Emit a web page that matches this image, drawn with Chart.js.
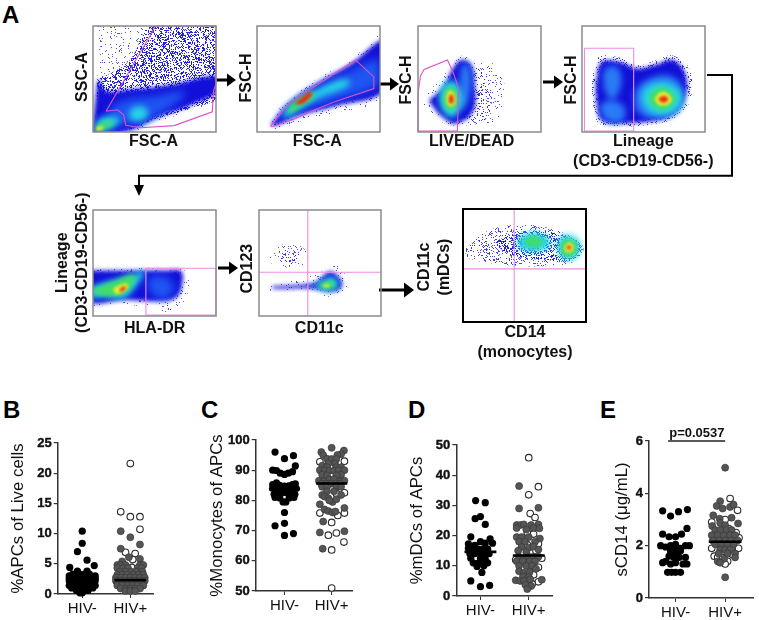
<!DOCTYPE html>
<html><head><meta charset="utf-8">
<style>
html,body{margin:0;padding:0;background:#fff;width:759px;height:620px;overflow:hidden}
canvas{position:absolute;display:block}
.tag{position:absolute;font:bold 24px "Liberation Sans",Arial,sans-serif;color:#000;line-height:24px}
svg{position:absolute;left:0;top:0}
</style>
<script src="https://cdn.jsdelivr.net/npm/chart.js@4"></script>
</head><body>
<svg width="759" height="620" id="arrows">
<g fill="#000" stroke="none">
<path d="M216 78.5h11v-5l9 6.500-9 6.500v-5h-11z"/>
<path d="M380 82.500h10v-5l9 6.500-9 6.500v-5h-10z"/>
<path d="M543 80.500h11v-5l9 6.500-9 6.500v-5h-11z"/>
<path d="M218 266.500h11v-5l9 6.500-9 6.500v-5h-11z"/>
<path d="M379 288.500h25v-6l10 7.500-10 7.500v-6h-25z"/>
<path d="M134 185h10l-5 11z"/>
</g>
<path d="M707 75H732V175.700H139V186" fill="none" stroke="#000" stroke-width="2"/>
</svg>
<div class="tag" style="left:2px;top:3px">A</div>
<div class="tag" style="left:3px;top:398px">B</div>
<div class="tag" style="left:201px;top:398px">C</div>
<div class="tag" style="left:408px;top:398px">D</div>
<div class="tag" style="left:600px;top:398px">E</div>
<script>
/* ---------- dot-plot categories and values (offset inside the swarm, value) ---------- */
const groups=['HIV-','HIV+'];
const bNeg=[[0,10.4],[0,8.4],[-.1,7],[.1,5.6],[-.26,4.4],[.25,4.7],[-.1,3.8],[.1,3.8],[-.2,3.3],[-.05,3.3],[.05,3.3],[.15,3.3],[-.27,3],[-.15,3],[.15,3],[.27,3],[-.27,2.6],[-.18,2.6],[-.08,2.6],[.08,2.6],[.18,2.6],[.27,2.6],[-.27,2.2],[-.17,2.2],[-.1,2.2],[0,2.2],[.1,2.2],[.2,2.2],[.27,2.2],[-.25,1.8],[-.15,1.8],[-.05,1.8],[.05,1.8],[.15,1.8],[.25,1.8],[-.27,1.4],[-.15,1.4],[-.05,1.4],[.05,1.4],[.15,1.4],[.27,1.4],[-.22,1],[-.1,1],[0,1],[.1,1],[.22,1],[-.12,.6],[-.03,.6],[.05,.6],[.12,.6],[0,.2],[-.05,.2]];
const bPosGray=[[-.2,10.4],[0,9.4],[.2,8.2],[-.2,7.5],[-.03,6.1],[-.17,5.4],[.2,5.8],[-.27,4.8],[-.2,4.8],[-.1,4.8],[.2,4.8],[.27,4.8],[-.27,4.3],[-.15,4.3],[-.05,4.3],[.15,4.3],[.23,4.3],[-.22,3.7],[-.1,3.7],[.02,3.7],[.12,3.7],[.25,3.7],[-.27,3.2],[-.17,3.2],[-.07,3.2],[.07,3.2],[.17,3.2],[.27,3.2],[-.3,2.7],[-.2,2.7],[-.1,2.7],[0,2.7],[.1,2.7],[.2,2.7],[.3,2.7],[-.3,2.2],[-.2,2.2],[-.1,2.2],[0,2.2],[.1,2.2],[.2,2.2],[.3,2.2],[-.27,1.8],[-.17,1.8],[-.07,1.8],[.03,1.8],[.13,1.8],[.23,1.8],[-.27,1.4],[-.17,1.4],[-.05,1.4],[.05,1.4],[.15,1.4],[.27,1.4],[-.2,.9],[-.1,.9],[0,.9],[.1,.9],[.2,.9],[-.1,.5],[0,.5],[.1,.5]];
const bPosWhite=[[0,21.6],[-.2,13.6],[0,12.8],[.2,12.8],[.2,10.7],[-.1,6.9],[.1,6.7],[.05,5.7],[.03,4.4],[.12,3.1],[-.15,1.1],[.22,1.7]];
const cNeg=[[-.2,96],[0,93.8],[.19,94.8],[.23,91.4],[-.25,90],[-.17,89.9],[-.09,89],[0,88.6],[.08,89],[.17,89.5],[-.25,85.2],[-.17,85.8],[-.1,85],[0,84.7],[.09,84.8],[.17,85.2],[.23,85.5],[-.25,84],[-.15,84],[-.05,84],[.05,84],[.15,84],[.25,84],[-.22,82],[-.13,82],[-.05,82.5],[.05,82.5],[.13,82],[.22,82],[-.2,81],[-.1,80.8],[.1,80.8],[.2,81],[-.03,79.5],[.03,79.5],[0,76],[-.2,71.6],[0,72.4],[0,68.4],[.19,69]];
const cPosGray=[[0,97.4],[-.22,96],[.26,96.5],[-.18,95],[.2,95.3],[.12,95],[-.1,93.8],[0,93.7],[.1,93.7],[-.07,92.2],[.07,92.2],[-.2,91.5],[-.1,91],[.1,91],[.2,91],[-.25,90],[-.15,90],[-.05,89.8],[.05,89.8],[.15,90],[.27,90],[-.2,88.5],[.2,88.5],[-.1,88.3],[.1,88.3],[-.05,87],[.05,87],[-.27,86.5],[-.17,86.3],[.17,86.3],[.27,86.5],[-.22,85.5],[-.12,85.5],[-.02,85.5],[.08,85.5],[.18,85.5],[-.2,84.5],[-.1,84.5],[.1,84.5],[.2,84.5],[-.1,83],[.05,83],[-.2,81.8],[-.15,81.3],[-.07,80.7],[.2,81.8],[.02,79.5],[-.05,80],[.1,80.4],[-.25,78.7],[-.15,77],[-.07,76.5],[.02,76],[.08,76.3],[.27,77.5],[-.18,73],[-.25,69.4],[.27,69.8],[-.19,64]];
const cPosWhite=[[-.25,92.8],[.27,93],[0,91.2],[.27,82.5],[.1,82.3],[-.25,75.8],[.13,75],[.27,75.8],[0,72.7],[-.07,68.5],[.1,69.2],[.26,66.2],[0,63.6],[0,51]];
const dNeg=[[-.1,31.6],[.1,30.9],[0,26.3],[-.11,25.6],[.1,23.7],[-.2,19.6],[.2,18.9],[0,18],[-.25,17.3],[-.12,16.8],[.1,17.5],[.25,17.5],[-.25,15.8],[-.15,15.5],[-.05,15.5],[.05,15.5],[.15,15.5],[-.22,14],[-.12,14],[-.02,14.2],[.08,14],[.18,14],[-.2,12.5],[0,12.5],[.1,12.2],[-.15,11],[-.05,10.8],[.05,11],[.15,11],[-.07,9.8],[.07,10],[.03,7.8],[-.2,5],[0,3.1],[.19,3.5]];
const dPosGray=[[-.2,36.4],[-.2,29],[.2,29.2],[-.25,23.5],[-.17,23.5],[-.1,23.7],[.05,23.5],[.2,23.7],[-.25,22.5],[-.05,22],[.1,22.5],[.22,22.4],[-.25,19.5],[-.15,19.5],[0,19.5],[.23,19],[-.2,18],[-.08,18],[.13,18],[-.15,16.2],[0,16],[.1,16.4],[-.22,15],[-.05,14.5],[.2,15.4],[-.2,13],[-.1,12.5],[0,13],[.1,13],[.2,13],[-.25,11.5],[-.12,11.5],[.02,11.5],[.13,11.5],[-.2,10],[-.05,10],[.07,10],[-.2,8.2],[-.1,7.7],[.02,8],[.15,9],[-.12,6.5],[0,6.3],[-.27,5.2],[-.18,5],[-.1,5],[.03,5.5],[.27,5.4],[-.07,3.7],[.05,3.3],[-.03,2.3]];
const dPosWhite=[[0,45.8],[.2,36.2],[0,33.5],[.03,27.3],[.13,26],[-.03,21],[.1,20.5],[.2,17.3],[-.03,17],[.15,15],[-.27,12],[.27,12.5],[.2,9.5],[.1,7],[.2,4.7],[.07,4]];
const eNeg=[[-.26,3.33],[-.1,3.13],[.06,3.3],[.24,3.38],[.23,2.66],[-.26,2.44],[.12,2.44],[-.13,2.34],[0,2.34],[-.3,2],[-.2,1.95],[-.1,2],[0,2.05],[.1,1.9],[.2,2],[.28,2],[-.1,1.8],[0,1.75],[.1,1.8],[-.13,1.6],[-.03,1.55],[.07,1.55],[.2,1.55],[-.26,1.35],[-.2,1.4],[-.1,1.3],[0,1.35],[.15,1.3],[.23,1.3],[-.16,.98],[-.08,.98],[0,.98],[.1,.98]];
const ePosGray=[[0,4.98],[0,.79],[-.1,3.7],[-.17,3.52],[-.05,3.42],[.1,3.48],[.17,3.57],[-.24,3.16],[-.11,3.03],[.13,3.07],[-.1,2.87],[.26,2.85],[0,2.78],[-.26,2.75],[-.2,2.6],[-.1,2.6],[.03,2.6],[.13,2.6],[-.27,2.4],[-.15,2.4],[-.03,2.4],[.1,2.4],[.2,2.4],[-.25,2.2],[-.12,2.2],[0,2.2],[.12,2.2],[.25,2.2],[-.2,2.05],[-.08,2.05],[.05,2.05],[.17,2.05],[-.1,1.85],[0,1.85],[.1,1.85],[-.13,1.7],[.05,1.7],[.2,1.7],[.2,1.55],[-.02,1.5],[-.15,1.4],[-.1,1.35]];
const ePosWhite=[[.25,3.35],[.1,3.8],[-.27,2.9],[0,3],[.07,2.65],[-.05,2.6],[.28,2.3],[.22,2.5],[-.27,1.9],[.27,1.9],[-.22,1.6],[-.15,1.55],[-.05,1.55],[.05,1.4],[.15,1.65],[0,1.3],[-.1,2],[.12,1.9]];
const bMedians=[2.5,2.3], cMedians=[83.7,85.6], dMedians=[14.6,13.4], eMedians=[1.92,2.15];
const bTicks=[0,5,10,15,20,25], cTicks=[50,60,70,80,90,100], dTicks=[0,10,20,30,40,50], eTicks=[0,2,4,6];
const pText='p=0.0537', pBar=[[.85,6],[2,6]];

/* ---------- flow-plot density contours, gates, labels (percent of each axis) ---------- */
const a1Sparse=[[1,-3],[2,30],[5,70],[8,104],[104,104],[104,33],[77,19],[52,9],[39,2],[25,-3]];
const a1Dense=[[3,30],[5,50],[14,55],[30,68],[50,104],[104,104],[104,36],[77,22],[50,12],[25,3]];
const a1Blue=[[-1,-3],[2,30],[5,50],[10,39],[30,40],[60,44],[104,53],[104,40],[77,24],[52,14],[39,6],[25,0]];
const a1Bright=[[15,8],[13,20],[25,30],[50,34],[75,38],[65,25],[45,12],[30,7]];
const a1Cyan=[[29,17],[33,23],[40,24],[45,18],[40,11],[32,11]];
const a1LowCyan=[[1,1],[5,12],[14,15],[22,11],[16,4],[6,0]];
const a1LowGreen=[[2,2],[5,8],[12,10],[17,8],[11,4],[5,1]];
const a1LowCore=[[2,2],[4,5],[8,5],[8,3],[4,1]];
const a1Gate=[[10.6,19.5],[51,100],[100,100],[100,45],[98,39],[97,19],[66,6],[39,4],[26.6,6.3],[25,16],[20,21],[10.6,19.5]];

const a2Sparse=[[9,5],[14,16],[27,32],[49,50],[76,68],[104,92],[104,32],[62,18],[35,10],[15,2]];
const a2Blue=[[11,7],[27,28],[49,46],[76,64],[104,86],[104,40],[62,24],[35,16],[15,6]];
const a2Bright=[[16,12],[27,25],[49,42],[76,58],[100,68],[100,46],[62,29],[35,20],[22,14]];
const a2Cyan=[[20,15],[28,27],[47,39],[72,50],[75,44],[50,32],[32,20],[24,14]];
const a2Green=[[24,20],[33,31],[45,38],[46,33],[34,23],[27,18]];
const a2Core=[[30,26],[37,33],[44,38],[44,34],[37,27]];
const a2Gate=[[11,6],[27,28],[80,68],[95,52],[95,41],[62,28],[45,20],[30,12],[12,5],[11,6]];

const a3Sparse=[[1,22],[9,38],[29,64],[35,72],[47,66],[66,62],[70,38],[64,12],[34,6],[18,10],[6,20]];
const a3Dense=[[44,62],[55,55],[60,30],[55,12],[40,8],[44,30]];
const a3Blue=[[9,30],[20,42],[29,61],[35,68],[43,64],[46,46],[45,20],[31,8],[20,14],[12,24]];
const a3Band=[[34,40],[35,60],[39,65],[43,55],[42,35],[37,22],[33,26]];
const a3Cyan=[[17,30],[19,42],[26,48],[32,46],[36,32],[33,18],[26,14],[20,20]];
const a3Green=[[20,31],[22,39],[26,43],[31,39],[32,29],[29,21],[24,21]];
const a3Yellow=[[23,31],[24,37],[27,39],[30,35],[30,27],[27,24],[24,26]];
const a3Core=[[25,31],[26,35],[28,35],[29,31],[28,27],[26,27]];
const a3Gate=[[0,1],[0,36],[2,53],[5,59],[24,68],[29,55],[33,41],[32,1],[0,1]];

const a4Sparse=[[8,46],[13,70],[31,70],[45,63],[61,68],[74,72],[88,58],[88,30],[76,14],[61,8],[31,5],[14,8],[9,27]];
const a4Blue=[[11,46],[16,66],[31,66],[45,60],[61,64],[74,68],[84,55],[84,33],[74,17],[61,11],[31,8],[16,11],[12,27]];
const a4BrightA=[[18,40],[18,58],[27,62],[32,52],[30,38],[24,30]];
const a4BrightB=[[17,14],[15,25],[24,30],[34,24],[34,12],[24,9]];
const a4Mid=[[43,22],[44,40],[58,52],[74,52],[82,40],[80,22],[68,14],[52,14]];
const a4Cyan=[[48,31],[52,42],[66,47],[78,41],[82,31],[76,20],[66,16],[54,20]];
const a4Green=[[54,31],[58,39],[66,42],[73,38],[76,31],[71,23],[66,21],[58,24]];
const a4Yellow=[[59,31],[62,36],[66,38],[70,36],[73,31],[70,26],[66,25],[62,26]];
const a4Core=[[62,31],[64,33],[66,34],[69,33],[70,31],[68,28],[65,28]];
const a4Gate=[[2,79],[42,79],[42,1],[2,1],[2,79]];

const a5Sparse=[[-4,44],[72,44],[78,34],[75,16],[65,4],[45,8],[20,11],[-4,11]];
const a5Blue=[[-4,43],[30,43],[60,43],[71,43],[73,34],[68,18],[52,14],[27,15],[-4,14]];
const a5Bright=[[44,34],[46,24],[54,16],[62,18],[66,28],[60,36],[50,38]];
const a5Cyan=[[-3,27],[14,33],[33,39],[42,43],[35,28],[25,17],[11,18],[-3,18]];
const a5Green=[[-2,25],[16,32],[33,39],[31,28],[22,20],[5,20]];
const a5Yellow=[[16,26],[27,31],[28,26],[19,21]];
const a5Core=[[22,26],[26,28],[26,25],[22,23]];
const a5Gate=[[43,1],[43,45],[100,45],[100,1],[43,1]];

const a6SparseHigh=[[8,55],[13,64],[27,68],[38,62],[38,50],[25,46],[12,48]];
const a6BlueHigh=[[16,55],[20,61],[28,62],[34,57],[30,51],[20,51]];
const a6SparseLow=[[8,28],[30,34],[48,40],[62,48],[72,36],[72,24],[60,18],[36,24],[8,24]];
const a6Blue=[[11,28],[39,30],[47,32],[58,42],[66,36],[68,28],[61,23],[42,26],[11,26]];
const a6Cyan=[[44,29],[52,33],[58,37],[64,34],[65,28],[58,24],[48,26]];
const a6Green=[[48,29],[54,32],[60,33],[62,28],[56,26]];
const a6Core=[[52,29],[56,30],[58,28],[54,27]];
const a6GateV=[[40,0],[40,100]];
const a6GateH=[[0,41.3],[100,41.3]];

const a7Sparse=[[2,65],[19,80],[46,86],[76,81],[97,68],[94,56],[76,50],[41,50],[17,53],[3,58]];
const a7Blue=[[38,77],[55,81],[79,78],[95,68],[90,55],[65,55],[41,59],[27,70]];
const a7CyanA=[[43,70],[48,77],[60,79],[70,74],[70,66],[58,62],[47,64]];
const a7GreenA=[[50,71],[54,75],[62,75],[65,71],[60,67],[52,67]];
const a7CyanB=[[76,66],[79,75],[86,77],[94,72],[95,62],[90,56],[81,56]];
const a7GreenB=[[79,66],[82,72],[87,73],[92,69],[92,62],[87,58],[82,59]];
const a7YellowB=[[82,66],[85,70],[88,70],[90,66],[88,62],[84,62]];
const a7Core=[[84,66],[86,68],[88,66],[86,64]];
const a7GateV=[[41.6,0],[41.6,100]];
const a7GateH=[[0,47],[100,47]];

const xLabels=[['FSC-A'],['FSC-A'],['LIVE/DEAD'],['Lineage','(CD3-CD19-CD56-)'],['HLA-DR'],['CD11c'],['CD14','(monocytes)']];
const yLabels=[['SSC-A'],['FSC-H'],['FSC-H'],['FSC-H'],['Lineage','(CD3-CD19-CD56-)'],['CD123'],['CD11c','(mDCs)']];

/* ---------- stipple textures for the speckled edge of the clouds ---------- */
function tile(count,color){const size=97,c=document.createElement('canvas');c.width=c.height=size;const g=c.getContext('2d');g.fillStyle=color;
  for(let k=1;k<=count;k++)g.fillRect(Math.floor(((k*.7548776662+k*k*.0137)%1)*size),Math.floor(((k*.5698402910+k*k*.0291)%1)*size),1,1);
  return g.createPattern(c,'repeat');}
const levelStyle={
  sparse:{fill:tile(600,'rgba(45,45,230,.8)'),soft:.3},
  medium:{fill:tile(1600,'rgba(35,35,228,.85)'),soft:.3},
  dense:{fill:tile(4200,'rgba(25,25,225,.95)'),soft:.3},
  blue:{fill:'#1210d8',soft:2.2},
  bright:{fill:'#1f55f2',soft:4},
  band:{fill:'#2a7af5',soft:3},
  cyan:{fill:'#26d6e6',soft:3},
  green:{fill:'#42dd62',soft:2.4},
  yellow:{fill:'#ecec30',soft:1.8},
  core:{fill:'#ea2a14',soft:1.4}
};
const pinkA='#dd52cc', pinkB='#ea8ce6';
const flowPanels=[
 {box:[92.5,26,215,131.5],tx:82,yc:77,xc:153,ty:141.7,frame:'#8a8a8a',fw:1.5,pink:pinkA,
  gates:[a1Gate],
  levels:[[a1Sparse,'sparse'],[a1Dense,'dense'],[a1Blue,'blue'],[a1Bright,'bright'],[a1Cyan,'cyan'],[a1LowCyan,'cyan'],[a1LowGreen,'green'],[a1LowCore,'yellow']]},
 {box:[256.7,26,379.3,131.5],tx:246,yc:78,xc:317,ty:141.7,frame:'#8a8a8a',fw:1.5,pink:pinkA,
  gates:[a2Gate],
  levels:[[a2Sparse,'sparse'],[a2Blue,'blue'],[a2Bright,'bright'],[a2Cyan,'cyan'],[a2Green,'green'],[a2Core,'core']]},
 {box:[418.3,26,541.3,131.5],tx:407,yc:80,xc:472,ty:141.7,frame:'#8a8a8a',fw:1.5,pink:pinkA,
  gates:[a3Gate],
  levels:[[a3Sparse,'sparse'],[a3Dense,'medium'],[a3Blue,'blue'],[a3Band,'band'],[a3Cyan,'cyan'],[a3Green,'green'],[a3Yellow,'yellow'],[a3Core,'core']]},
 {box:[581.7,26,704.7,131.5],tx:571,yc:80,xc:643,ty:142,frame:'#8a8a8a',fw:1.5,pink:pinkB,
  gates:[a4Gate],
  levels:[[a4Sparse,'medium'],[a4Blue,'blue'],[a4BrightA,'band'],[a4BrightB,'band'],[a4Mid,'band'],[a4Cyan,'cyan'],[a4Green,'green'],[a4Yellow,'yellow'],[a4Core,'core']]},
 {box:[93.3,210.3,216,316],tx:63,yc:263,xc:155,ty:329,frame:'#8a8a8a',fw:1.5,pink:pinkB,
  gates:[a5Gate],
  levels:[[a5Sparse,'sparse'],[a5Blue,'blue'],[a5Bright,'bright'],[a5Cyan,'cyan'],[a5Green,'green'],[a5Yellow,'yellow'],[a5Core,'core']]},
 {box:[258.7,210.3,381,316],tx:247,yc:269,xc:319,ty:329,frame:'#8a8a8a',fw:1.5,pink:pinkB,
  gates:[a6GateV,a6GateH],
  levels:[[a6SparseHigh,'sparse'],[a6SparseLow,'sparse'],[a6BlueHigh,'medium'],[a6Blue,'blue'],[a6Cyan,'cyan'],[a6Green,'green'],[a6Core,'yellow']]},
 {box:[463,209,585.7,321.7],tx:425,yc:267,xc:525,ty:333,frame:'#000',fw:2,pink:pinkB,
  gates:[a7GateV,a7GateH],
  levels:[[a7Sparse,'medium'],[a7Blue,'dense'],[a7CyanA,'cyan'],[a7GreenA,'green'],[a7CyanB,'cyan'],[a7GreenB,'green'],[a7YellowB,'yellow'],[a7Core,'core']]}
];
const SANS='"Liberation Sans",Arial,sans-serif';
function place(w,h,l,t){const c=document.createElement('canvas');c.width=Math.round(w);c.height=Math.round(h);
  c.style.cssText=`left:${l}px;top:${t}px;width:${Math.round(w)}px;height:${Math.round(h)}px`;document.body.appendChild(c);return c;}
const pts=a=>a.map(p=>({x:p[0],y:p[1]}));
const softPlugin={id:'soft',
  beforeDatasetsDraw(ch){const ds=ch.data.datasets,n=ds[ds.length-1];ch.ctx.filter=n.soft?`blur(${n.soft}px)`:'none';},
  afterDatasetDraw(ch,a){const n=ch.data.datasets[a.index-1];ch.ctx.filter=n&&n.soft?`blur(${n.soft}px)`:'none';},
  afterDatasetsDraw(ch){ch.ctx.filter='none';},
  afterDraw(ch){const o=ch.options.plugins.soft,c=ch.chartArea,g=ch.ctx;g.save();g.strokeStyle=o.frame;g.lineWidth=o.fw;g.strokeRect(c.left,c.top,c.right-c.left,c.bottom-c.top);
    g.font=`bold 16px ${SANS}`;g.fillStyle='#111';g.textAlign='center';g.textBaseline='middle';
    o.xText.forEach((t,k)=>g.fillText(t,o.xc-o.ox,o.ty-o.oy+k*19.5));
    o.yText.forEach((t,k)=>{g.save();g.translate(o.tx-o.ox+k*19.5,o.yc-o.oy);g.rotate(-Math.PI/2);g.fillText(t,0,0);g.restore();});
    g.restore();}};
flowPanels.forEach((p,i)=>{
  const [l,t,r,b]=p.box, mL=62, mR=42, mT=40, mB=50;
  const cv=place(r-l+mL+mR,b-t+mT+mB,l-mL,t-mT);
  const datasets=[];
  p.gates.forEach(g=>datasets.push({data:pts(g),showLine:true,borderColor:p.pink,borderWidth:1.1,pointRadius:0,fill:false,tension:0,clip:false}));
  p.levels.slice().reverse().forEach(([arr,lv])=>{const s=levelStyle[lv];
    const closed=arr.concat([arr[0]]);
    datasets.push({data:pts(closed),showLine:true,borderWidth:0,borderColor:'transparent',backgroundColor:s.fill,pointRadius:0,fill:'shape',tension:.4,soft:s.soft});});
  new Chart(cv,{type:'scatter',data:{datasets},plugins:[softPlugin],options:{
    responsive:false,animation:false,events:[],
    layout:{padding:{top:mT,right:mR,left:0,bottom:0}},
    plugins:{legend:{display:false},tooltip:{enabled:false},
      soft:{frame:p.frame,fw:p.fw,xText:xLabels[i],yText:yLabels[i],xc:p.xc,yc:p.yc,tx:p.tx,ty:p.ty,ox:l-mL,oy:t-mT}},
    scales:{
      x:{type:'linear',min:0,max:100,grid:{display:false},border:{display:false},ticks:{display:false},afterFit(s){s.height=mB;}},
      y:{type:'linear',min:0,max:100,grid:{display:false},border:{display:false},ticks:{display:false},afterFit(s){s.width=mL;}}
    }}});
});

/* ---------- dot plots ---------- */
const pLabel={id:'pLabel',afterDatasetsDraw(ch){const o=ch.options.plugins.pLabel;if(!o.text)return;const g=ch.ctx;g.save();g.font=`bold 13px ${SANS}`;g.fillStyle='#111';g.textAlign='center';g.textBaseline='bottom';
  g.fillText(o.text,ch.scales.x.getPixelForValue(o.x),ch.scales.y.getPixelForValue(o.y)-1);g.restore();}};
const dotPanels=[
 {l:57.7,r:158,t:442.7,b:593.3,tx:18,xr:[.49,2.49],yr:[0,25],ticks:bTicks,title:'%APCs of Live cells',neg:bNeg,gray:bPosGray,white:bPosWhite,med:bMedians},
 {l:255.7,r:357,t:440.3,b:591.7,tx:217,xr:[.39,2.45],yr:[50,100],ticks:cTicks,title:'%Monocytes of APCs',neg:cNeg,gray:cPosGray,white:cPosWhite,med:cMedians},
 {l:456.3,r:556.7,t:445,b:596,tx:417,xr:[.5,2.5],yr:[0,50],ticks:dTicks,title:'%mDCs of APCs',neg:dNeg,gray:dPosGray,white:dPosWhite,med:dMedians},
 {l:649,r:758,t:440.7,b:598,tx:622,xr:[.465,2.58],yr:[0,6],ticks:eTicks,title:'sCD14 (μg/mL)',neg:eNeg,gray:ePosGray,white:ePosWhite,med:eMedians,p:true}
];
dotPanels.forEach(p=>{
  const lh=18, left=p.tx-lh/2, pad=14, bx=28;
  const w=p.r-left+1, h=p.b-p.t+pad+bx;
  const cv=place(w,h,left,p.t-pad);
  const shift=(a,c)=>a.map(v=>({x:c+v[0],y:v[1]}));
  const datasets=[];
  if(p.p)datasets.push({data:pts(pBar),showLine:true,borderColor:'#222',borderWidth:1.5,pointRadius:0,clip:false});
  [0,1].forEach(k=>datasets.push({data:[{x:k+1-.33,y:p.med[k]},{x:k+1+.33,y:p.med[k]}],showLine:true,borderColor:'#000',borderWidth:2.6,pointRadius:0,clip:false}));
  datasets.push({data:shift(p.gray,2),pointRadius:3.5,pointBackgroundColor:'#555',pointBorderColor:'#383838',pointBorderWidth:.7,clip:false});
  datasets.push({data:shift(p.white,2),pointRadius:3.3,pointBackgroundColor:'#fff',pointBorderColor:'#2a2a2a',pointBorderWidth:1.1,clip:false});
  datasets.push({data:shift(p.neg,1),pointRadius:3.6,pointBackgroundColor:'#000',pointBorderColor:'#000',pointBorderWidth:0,clip:false});
  const axisLine={color:'#333',width:1.5};
  new Chart(cv,{type:'scatter',data:{datasets},plugins:[pLabel],options:{
    responsive:false,animation:false,events:[],
    layout:{padding:{top:pad,right:1,left:0,bottom:0}},
    plugins:{legend:{display:false},tooltip:{enabled:false},pLabel:p.p?{text:pText,x:1.43,y:6}:{}},
    scales:{
      x:{type:'linear',min:p.xr[0],max:p.xr[1],border:axisLine,
        grid:{display:true,drawOnChartArea:false,drawTicks:true,tickLength:4,color:'#333',lineWidth:1},
        afterBuildTicks(s){s.ticks=[{value:1},{value:2}];},
        ticks:{autoSkip:false,maxRotation:0,color:'#111',padding:2,font:{family:SANS,size:15},callback:v=>groups[v-1]},
        afterFit(s){s.height=bx;}},
      y:{type:'linear',min:p.yr[0],max:p.yr[1],border:axisLine,
        grid:{display:true,drawOnChartArea:false,drawTicks:true,tickLength:4,color:'#333',lineWidth:1.2},
        afterBuildTicks(s){s.ticks=p.ticks.map(v=>({value:v}));},
        ticks:{color:'#111',padding:2,textStrokeColor:'#111',textStrokeWidth:.4,font:{family:SANS,size:13,weight:'bold'}},
        title:{display:true,text:p.title,color:'#111',font:{family:SANS,size:16.8,lineHeight:1.07},padding:0},
        afterFit(s){s.width=p.l-left;}}
    }}});
});
</script>
</body></html>
